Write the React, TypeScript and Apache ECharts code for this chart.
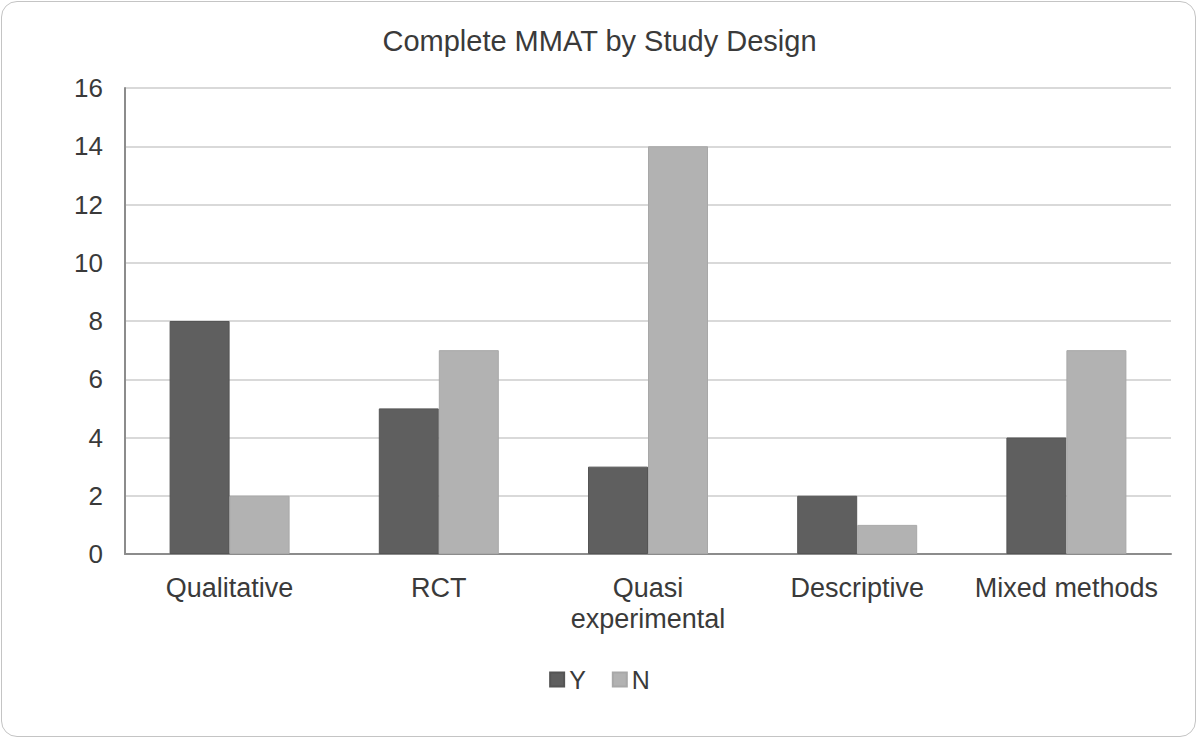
import React, { useEffect, useRef } from "react";
import * as echarts from "echarts";

const categories = ["Qualitative", "RCT", "Quasi\nexperimental", "Descriptive", "Mixed methods"];
const yValues = [8, 5, 3, 2, 4];
const nValues = [2, 7, 14, 1, 7];
const titleText = "Complete MMAT by Study Design";

export default function App() {
  const ref = useRef<HTMLDivElement>(null);
  useEffect(() => {
    if (!ref.current) return;
    const chart = echarts.init(ref.current, undefined, { renderer: "svg" });
    const font = "'Liberation Sans', Arial, sans-serif";
    const textColor = "#3a3a3a";
    chart.setOption({
      animation: false,
      backgroundColor: "transparent",
      textStyle: { fontFamily: font },
      title: {
        text: titleText,
        left: "center",
        top: 21,
        textStyle: { fontFamily: font, fontSize: 29, fontWeight: "normal", color: textColor },
      },
      legend: {
        top: 662,
        left: "center",
        itemWidth: 14,
        itemHeight: 14,
        itemGap: 26,
        icon: "rect",
        textStyle: { fontFamily: font, fontSize: 25, color: textColor },
        data: ["Y", "N"],
      },
      grid: { left: 125, right: 28, top: 88, bottom: 186, containLabel: false },
      xAxis: {
        type: "category",
        data: categories,
        axisLine: { lineStyle: { color: "#8c8c8c", width: 2 } },
        axisTick: { show: false },
        axisLabel: {
          fontFamily: font,
          fontSize: 27,
          color: textColor,
          margin: 18,
          lineHeight: 31,
          interval: 0,
        },
      },
      yAxis: {
        type: "value",
        min: 0,
        max: 16,
        interval: 2,
        axisLine: { show: true, lineStyle: { color: "#8c8c8c", width: 2 } },
        axisTick: { show: false },
        splitLine: { lineStyle: { color: "#d9d9d9", width: 2 } },
        axisLabel: { fontFamily: font, fontSize: 26, color: textColor, margin: 22 },
      },
      series: [
        {
          name: "Y",
          type: "bar",
          data: yValues,
          barWidth: 60,
          barGap: "0%",
          itemStyle: { color: "#5f5f5f", borderColor: "#555555", borderWidth: 1 },
        },
        {
          name: "N",
          type: "bar",
          data: nValues,
          barWidth: 60,
          barGap: "0%",
          itemStyle: { color: "#b2b2b2", borderColor: "#a8a8a8", borderWidth: 1 },
        },
      ],
    });
    return () => chart.dispose();
  }, []);
  return (
    <div
      style={{
        position: "fixed",
        left: 0,
        top: 0,
        width: 1199,
        height: 740,
        background: "#ffffff",
      }}
    >
      <div
        style={{
          position: "absolute",
          left: 1,
          top: 1,
          width: 1195,
          height: 736,
          border: "1px solid #c4c4c4",
          borderRadius: 16,
          boxSizing: "border-box",
        }}
      />
      <div ref={ref} style={{ position: "absolute", left: 0, top: 0, width: 1199, height: 740 }} />
    </div>
  );
}
